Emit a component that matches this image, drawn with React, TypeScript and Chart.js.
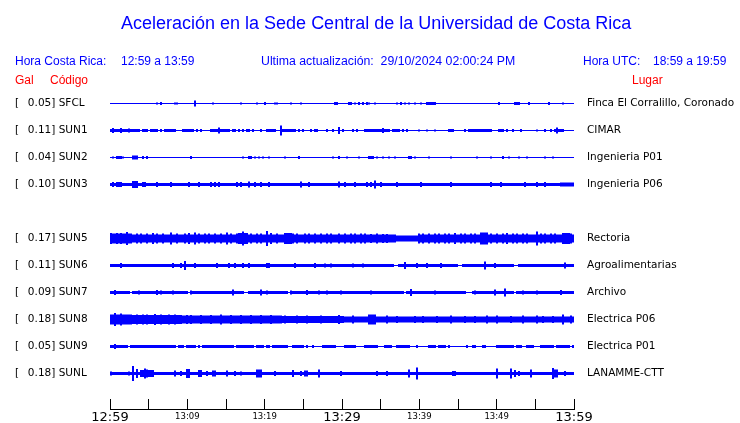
import React, { useEffect, useRef } from "react";
import { Chart, registerables } from "chart.js";

Chart.register(...registerables);

// ---------------- data ----------------
const STATIONS = ["SFCL", "SUN1", "SUN2", "SUN3", "SUN5", "SUN6", "SUN7", "SUN8", "SUN9", "SUNL"];
const PEAK_GAL = [0.05, 0.11, 0.04, 0.1, 0.17, 0.11, 0.09, 0.18, 0.05, 0.18];
const PLACES = [
  "Finca El Corralillo, Coronado",
  "CIMAR",
  "Ingenieria P01",
  "Ingenieria P06",
  "Rectoria",
  "Agroalimentarias",
  "Archivo",
  "Electrica P06",
  "Electrica P01",
  "LANAMME-CTT",
];
// row of each trace (row 4 = SUN4, without data)
const ROWS = [0, 1, 2, 3, 5, 6, 7, 8, 9, 10];
// background amplitude of each trace (relative units)
const BASE_AMP = [1, 1, 1, 3, 8, 3, 3, 6, 1, 3];

// minutes after 12:59 of the x ticks and their labels
const TICK_MINUTES = [0, 5, 10, 15, 20, 25, 30, 35, 40, 45, 50, 55, 60];
const TICK_LABELS: Record<number, string> = { 0: "12:59", 10: "13:09", 20: "13:19", 30: "13:29", 40: "13:39", 50: "13:49", 60: "13:59" };
const BIG_TICKS = [0, 30, 60];

// events per trace: [start minute, end minute, amplitude]
const EV_SFCL: number[][] = [
  [6.0, 6.0, 2], [6.5, 6.6, 3], [8.3, 8.3, 2], [8.7, 8.7, 2], [11.0, 11.0, 6], [13.2, 13.2, 2], [16.9, 16.9, 2],
  [19.0, 19.0, 2], [20.0, 20.0, 3], [21.3, 21.3, 2], [21.5, 21.5, 2], [23.5, 23.5, 2], [24.7, 24.7, 2],
  [29.1, 29.3, 3], [30.9, 31.2, 3], [31.7, 31.7, 2], [32.1, 32.1, 3], [32.6, 32.8, 3], [33.2, 33.2, 3],
  [33.6, 33.6, 2], [34.3, 34.3, 2], [37.1, 37.1, 2], [37.6, 37.6, 3], [38.2, 38.2, 2], [38.6, 38.6, 2],
  [39.4, 39.4, 2], [40.2, 40.2, 2], [40.9, 41.9, 3], [50.2, 50.2, 3], [52.3, 52.3, 3], [52.6, 52.6, 3],
  [52.9, 52.9, 3], [54.2, 54.2, 3], [56.7, 56.7, 3], [58.6, 58.6, 2],
];
const EV_SUN1: number[][] = [
  [0.0, 3.7, 3], [0.4, 0.4, 5], [1.5, 1.5, 5], [2.4, 2.4, 4], [4.2, 4.5, 3], [4.9, 4.9, 3], [5.2, 6.2, 3],
  [6.6, 6.6, 3], [7.0, 7.0, 3], [7.3, 7.3, 3], [7.6, 7.6, 3], [8.0, 8.3, 3], [9.5, 9.9, 3], [10.3, 10.8, 3],
  [11.2, 11.2, 3], [11.7, 11.7, 3], [13.1, 15.5, 3], [14.0, 14.0, 6], [15.8, 15.8, 3], [16.1, 16.1, 3],
  [16.6, 16.6, 3], [17.2, 17.2, 3], [17.6, 17.6, 3], [18.1, 18.1, 3], [18.5, 18.5, 3], [19.6, 19.6, 3],
  [20.3, 21.3, 3], [22.0, 22.0, 10], [22.2, 23.9, 3], [24.5, 24.5, 3], [25.0, 25.0, 3], [26.1, 26.1, 3],
  [26.5, 26.5, 3], [26.8, 26.8, 3], [28.1, 28.1, 3], [28.9, 28.9, 3], [29.5, 29.5, 3], [29.7, 29.7, 7],
  [30.0, 30.0, 3], [31.4, 31.4, 3], [31.9, 31.9, 3], [32.9, 32.9, 3], [33.3, 35.9, 3], [35.4, 35.4, 5],
  [36.2, 36.2, 3], [36.7, 37.4, 3], [37.8, 37.8, 3], [38.5, 38.5, 3], [39.9, 39.9, 2], [41.1, 41.1, 2],
  [42.1, 42.1, 2], [43.9, 44.3, 3], [45.8, 45.8, 3], [46.5, 47.5, 3], [47.7, 48.2, 3], [48.5, 49.2, 3],
  [50.3, 50.9, 3], [51.4, 51.4, 3], [52.0, 52.0, 3], [53.1, 53.1, 3], [55.3, 55.3, 2], [56.3, 56.3, 3],
  [57.0, 57.0, 3], [57.6, 58.3, 3], [57.9, 57.9, 6], [58.6, 58.6, 3],
];
const EV_SUN2: number[][] = [
  [0.5, 0.5, 2], [1.0, 1.3, 3], [1.8, 1.8, 2], [3.0, 3.6, 4], [4.2, 4.2, 3], [4.9, 4.9, 3], [10.5, 10.5, 3],
  [17.1, 17.1, 2], [18.0, 18.2, 3], [18.8, 18.8, 2], [19.2, 19.2, 2], [19.7, 19.7, 2], [20.6, 20.6, 2],
  [22.7, 22.7, 2], [24.5, 24.5, 3], [28.9, 28.9, 2], [29.7, 29.7, 3], [30.6, 30.6, 2], [32.3, 32.3, 2],
  [33.5, 34.0, 3], [34.6, 34.6, 2], [35.4, 35.4, 2], [36.0, 36.0, 2], [36.9, 36.9, 2], [38.6, 38.8, 3],
  [39.4, 39.4, 2], [41.2, 41.2, 2], [44.2, 44.2, 2], [47.4, 47.4, 2], [49.2, 49.2, 2], [50.8, 50.8, 3],
  [51.5, 51.5, 2], [53.0, 53.0, 2], [53.9, 53.9, 2], [56.3, 56.3, 2], [57.3, 57.3, 2],
];
const EV_SUN3: number[][] = [
  [0.4, 0.4, 5], [0.8, 0.8, 5], [1.1, 1.1, 5], [1.5, 1.5, 5], [3.1, 3.4, 7], [4.2, 4.5, 5], [6.1, 6.1, 5],
  [7.9, 7.9, 5], [10.1, 10.1, 5], [11.4, 11.4, 5], [13.0, 13.0, 5], [13.5, 13.5, 5], [14.2, 14.2, 5],
  [16.3, 16.3, 5], [16.9, 16.9, 5], [18.1, 18.1, 6], [18.8, 18.8, 5], [19.5, 19.5, 5], [20.6, 20.6, 5],
  [24.6, 24.6, 6], [25.7, 25.7, 5], [29.7, 29.7, 6], [30.5, 30.5, 5], [31.6, 31.6, 5], [33.2, 33.2, 5],
  [33.8, 33.8, 5], [34.2, 34.2, 8], [35.0, 35.0, 5], [37.0, 37.0, 5], [40.1, 40.1, 5], [44.2, 44.2, 5],
  [49.2, 49.2, 5], [50.6, 50.6, 5], [53.6, 53.6, 5], [55.1, 55.1, 5], [56.2, 56.2, 5], [58.3, 60, 4],
];
const EV_SUN5: number[][] = [
  [37.2, 39.8, 6],
  [0.0, 2.4, 10], [0.2, 0.2, 11], [0.9, 0.9, 11], [1.5, 1.5, 11], [2.2, 2.2, 13], [2.8, 2.8, 10], [3.4, 3.4, 10],
  [4.1, 4.1, 10], [4.7, 4.7, 10], [5.6, 5.6, 11], [6.2, 6.2, 10], [6.9, 6.9, 10], [8.0, 8.0, 12], [8.6, 8.6, 10],
  [9.7, 9.7, 10], [10.3, 10.3, 11], [11.0, 11.0, 12], [11.6, 11.6, 10], [12.3, 12.3, 10], [12.9, 12.9, 10],
  [13.5, 13.5, 10], [14.4, 14.4, 10], [15.2, 15.2, 12], [15.7, 15.7, 10], [16.3, 16.3, 10], [16.8, 17.6, 11],
  [17.1, 17.1, 14], [17.8, 17.8, 10], [18.3, 18.3, 10], [18.9, 18.9, 10], [19.6, 19.6, 10], [20.3, 20.3, 15],
  [20.9, 20.9, 11], [21.5, 21.5, 10], [22.6, 23.4, 11], [23.7, 23.7, 10], [24.3, 24.3, 10], [25.2, 25.2, 10],
  [25.8, 25.8, 10], [26.5, 26.5, 10], [27.3, 27.3, 10], [28.0, 28.0, 10], [28.6, 28.6, 10], [29.5, 29.5, 10],
  [30.3, 30.3, 10], [31.2, 31.2, 10], [31.8, 31.8, 10], [32.5, 32.5, 10], [33.1, 33.1, 10], [33.8, 33.8, 9],
  [34.6, 34.6, 10], [35.3, 35.3, 9], [35.9, 35.9, 9], [40.0, 40.0, 10], [40.6, 40.6, 10], [41.3, 41.3, 10],
  [41.9, 41.9, 10], [42.6, 42.6, 10], [43.2, 43.2, 10], [43.9, 43.9, 10], [44.5, 44.5, 11], [45.4, 45.4, 10],
  [46.0, 46.0, 10], [46.7, 46.7, 10], [47.3, 47.3, 10], [48.0, 48.7, 12], [49.2, 49.2, 10], [50.1, 50.1, 10],
  [50.8, 50.8, 10], [51.4, 51.4, 11], [52.0, 52.0, 10], [52.7, 52.7, 10], [53.3, 53.3, 10], [54.0, 54.0, 10],
  [55.1, 55.1, 14], [55.7, 55.7, 10], [56.3, 56.3, 10], [57.0, 57.0, 10], [57.6, 57.6, 10], [58.5, 59.3, 11],
  [59.6, 59.6, 10],
];
const EV_SUN6: number[][] = [
  [1.5, 1.5, 5], [8.1, 8.1, 5], [9.2, 9.2, 5], [9.8, 9.8, 9], [11.0, 11.0, 5], [13.9, 13.9, 5], [15.3, 15.3, 5],
  [16.2, 16.2, 5], [17.3, 17.3, 5], [18.0, 18.0, 5], [20.2, 20.2, 5], [20.6, 20.6, 5], [23.9, 23.9, 5],
  [26.5, 26.5, 5], [27.7, 27.7, 4], [28.6, 28.6, 4], [31.5, 31.5, 4], [32.7, 32.7, 4], [36.8, 37.2, 1],
  [38.2, 38.2, 7], [39.8, 39.8, 5], [41.0, 41.0, 5], [42.9, 42.9, 5], [45.0, 45.3, 1], [48.6, 48.6, 8],
  [49.9, 49.9, 5], [52.3, 52.5, 1], [58.9, 58.9, 6],
];
const EV_SUN7: number[][] = [
  [2.8, 2.8, 1], [10.1, 10.1, 1], [17.4, 17.8, 1], [23.2, 23.2, 1], [38.1, 38.1, 1], [46.2, 46.7, 1], [52.3, 52.3, 1],
  [0.6, 0.6, 5], [3.7, 3.7, 4], [6.0, 6.0, 5], [6.7, 6.7, 4], [8.1, 8.1, 4], [10.5, 10.5, 4], [15.9, 15.9, 6],
  [19.6, 19.6, 6], [20.3, 20.3, 4], [23.4, 23.4, 4], [25.4, 25.4, 5], [26.9, 26.9, 4], [28.0, 28.0, 4],
  [29.9, 29.9, 4], [33.8, 33.8, 4], [38.8, 38.8, 7], [42.1, 42.1, 4], [47.1, 47.1, 4], [49.9, 49.9, 6],
  [51.1, 51.1, 8], [53.5, 53.5, 4], [55.1, 55.1, 4], [58.3, 58.3, 5],
];
const EV_SUN8: number[][] = [
  [0.0, 2.4, 10], [2.4, 9.3, 9], [9.3, 22.2, 8], [22.2, 30.0, 7],
  [0.6, 0.6, 13], [1.3, 1.3, 12], [2.8, 2.8, 10], [3.4, 3.4, 10], [4.3, 4.3, 10], [4.9, 4.9, 10], [5.8, 5.8, 11],
  [6.7, 6.7, 10], [7.5, 7.5, 10], [8.4, 8.4, 10], [9.9, 9.9, 9], [10.5, 10.5, 9], [11.8, 11.8, 9], [13.1, 13.1, 9],
  [14.4, 14.4, 10], [15.7, 15.7, 9], [17.0, 17.0, 9], [18.3, 18.3, 9], [19.6, 19.6, 9], [20.9, 20.9, 9],
  [22.6, 22.6, 8], [24.3, 24.3, 8], [25.6, 25.6, 8], [27.3, 27.3, 8], [29.5, 29.5, 9], [29.7, 29.7, 9],
  [31.4, 31.4, 8], [33.5, 34.2, 10], [35.9, 35.9, 8], [37.2, 37.2, 7], [39.4, 39.4, 7], [40.6, 40.6, 7],
  [42.4, 42.4, 7], [44.1, 44.1, 8], [45.8, 45.8, 7], [47.1, 47.1, 7], [48.8, 48.8, 8], [50.1, 50.1, 8],
  [51.8, 51.8, 7], [53.5, 53.5, 8], [55.3, 55.3, 8], [56.1, 56.1, 7], [57.4, 57.4, 7], [58.7, 58.7, 10],
  [59.6, 59.6, 8],
];
const EV_SUN9: number[][] = [
  [0.0, 2.2, 3], [0.7, 0.7, 5], [2.6, 6.5, 3], [6.9, 7.5, 3], [8.0, 8.4, 3], [8.8, 9.5, 3], [9.9, 11.0, 3],
  [11.4, 11.6, 3], [12.0, 14.0, 3], [14.4, 15.9, 3], [16.3, 18.5, 3], [18.9, 19.8, 3], [20.2, 20.6, 3],
  [21.1, 23.0, 3], [23.7, 24.9, 3], [25.6, 25.6, 3], [26.2, 26.2, 3], [27.5, 28.0, 3], [28.4, 29.0, 3],
  [30.3, 30.8, 3], [31.2, 31.8, 3], [32.9, 34.6, 3], [35.5, 36.3, 3], [37.0, 38.7, 3], [39.6, 39.6, 3],
  [41.3, 41.9, 3], [42.6, 43.2, 3], [43.9, 43.9, 3], [46.2, 46.2, 3], [46.9, 47.3, 3], [48.2, 48.6, 3],
  [50.1, 51.0, 3], [51.2, 52.0, 3], [52.7, 53.1, 3], [53.8, 54.4, 3], [54.8, 54.8, 3], [55.7, 57.2, 3],
  [57.8, 58.3, 3], [58.7, 59.4, 3], [59.8, 59.8, 3],
];
const EV_SUNL: number[][] = [
  [0.2, 0.2, 4], [2.5, 2.5, 4], [3.1, 3.1, 15], [3.4, 3.4, 9], [3.9, 5.6, 7], [4.4, 4.4, 10], [4.7, 4.7, 8],
  [8.5, 8.5, 6], [9.2, 9.2, 5], [9.9, 10.1, 9], [11.6, 11.8, 7], [12.5, 12.5, 5], [13.3, 13.5, 6],
  [15.1, 15.1, 6], [16.1, 16.1, 5], [17.0, 17.0, 4], [18.9, 19.6, 8], [21.4, 21.4, 5], [23.7, 23.7, 7],
  [24.7, 24.7, 5], [25.2, 25.5, 6], [26.9, 26.9, 8], [29.8, 29.8, 5], [34.6, 34.6, 5], [35.9, 35.9, 5],
  [38.7, 38.7, 8], [39.8, 39.8, 12], [44.3, 44.7, 5], [50.1, 50.1, 10], [51.8, 51.8, 10], [52.4, 52.4, 7],
  [52.9, 52.9, 5], [54.5, 54.5, 8], [57.2, 57.8, 8], [57.4, 57.4, 11], [58.9, 58.9, 5],
];
const EVENTS = [EV_SFCL, EV_SUN1, EV_SUN2, EV_SUN3, EV_SUN5, EV_SUN6, EV_SUN7, EV_SUN8, EV_SUN9, EV_SUNL];

// ---------------- helpers ----------------
const SPAN = 60; // minutes shown
const BINS = 232;
const ROW_UNITS = 27; // amplitude units between two rows
const Y_MIN = -15.5;
const Y_MAX = 305.5;

function envelope(base: number, events: number[][]): number[] {
  const h: number[] = new Array(BINS).fill(base);
  for (const [t0, t1, a] of events) {
    const i0 = Math.max(0, Math.floor((t0 / SPAN) * BINS));
    const i1 = Math.min(BINS - 1, Math.floor((t1 / SPAN) * BINS));
    for (let i = i0; i <= i1; i++) h[i] = a < base ? a : Math.max(h[i], a);
  }
  return h;
}

const TRACE_BLUE = "#0000ff";
const AXIS_FONT = "'DejaVu Sans', sans-serif";
const HEAD_FONT = "'Liberation Sans', Arial, sans-serif";

export default function App() {
  const ref = useRef<HTMLCanvasElement | null>(null);

  useEffect(() => {
    const canvas = ref.current;
    if (!canvas) return;
    const datasets = STATIONS.map((name, k) => {
      const center = ROWS[k] * ROW_UNITS;
      const env = envelope(BASE_AMP[k], EVENTS[k]);
      return {
        label: name,
        data: env.map((a, i) => ({ x: ((i + 0.5) * SPAN) / BINS, y: [center - a / 2, center + a / 2] })),
        backgroundColor: TRACE_BLUE,
        borderWidth: 0,
        grouped: false,
        barPercentage: 1,
        categoryPercentage: 1,
        inflateAmount: 0,
      };
    });
    const rowValues = ROWS.map((r) => r * ROW_UNITS);
    const labelFor = (v: number, arr: string[]) => {
      const k = rowValues.indexOf(v);
      return k >= 0 ? arr[k] : "";
    };
    const leftLabels = STATIONS.map((s, k) => "[  \u2009" + PEAK_GAL[k].toFixed(2) + "] " + s);

    const chart = new Chart(canvas, {
      type: "bar",
      data: { datasets: datasets as any },
      options: {
        animation: false,
        responsive: false,
        maintainAspectRatio: false,
        devicePixelRatio: 1,
        layout: { padding: { top: 89, left: 15, right: 0, bottom: 0 } },
        plugins: { legend: { display: false }, tooltip: { enabled: false }, title: { display: false } },
        scales: {
          x: {
            type: "linear",
            position: "bottom",
            min: 0,
            max: SPAN,
            offset: false,
            afterBuildTicks: (s: any) => {
              s.ticks = TICK_MINUTES.map((v) => ({ value: v }));
            },
            afterFit: (s: any) => {
              s.height = 14;
            },
            grid: {
              display: true,
              drawOnChartArea: false,
              drawTicks: true,
              tickLength: -10,
              color: "#000",
              lineWidth: 1,
              offset: false,
            },
            border: { display: true, color: "#000", width: 1 },
            ticks: {
              autoSkip: false,
              maxRotation: 0,
              minRotation: 0,
              padding: 11,
              color: "#000",
              font: (ctx: any) =>
                BIG_TICKS.includes(ctx.tick?.value)
                  ? { family: AXIS_FONT, size: 13, lineHeight: 1.2 }
                  : { family: AXIS_FONT, size: 8.5, lineHeight: 1.6 },
              callback: (v: any) => TICK_LABELS[Number(v)] ?? "",
            },
          },
          y: {
            type: "linear",
            position: "left",
            reverse: true,
            min: Y_MIN + 1,
            max: Y_MAX,
            afterBuildTicks: (s: any) => {
              s.ticks = rowValues.map((v) => ({ value: v }));
            },
            afterFit: (s: any) => {
              s.width = 95;
            },
            grid: { display: false, drawTicks: false },
            border: { display: false },
            ticks: {
              autoSkip: false,
              crossAlign: "far",
              padding: 0,
              color: "#000",
              font: { family: AXIS_FONT, size: 10.5 },
              callback: (v: any) => labelFor(Number(v), leftLabels),
            },
          },
          y2: {
            type: "linear",
            position: "right",
            reverse: true,
            min: Y_MIN + 1,
            max: Y_MAX,
            afterBuildTicks: (s: any) => {
              s.ticks = rowValues.map((v) => ({ value: v }));
            },
            afterFit: (s: any) => {
              s.width = 166;
            },
            grid: { display: false, drawTicks: true, tickLength: 13 },
            border: { display: false },
            ticks: {
              autoSkip: false,
              padding: 0,
              color: "#000",
              font: { family: AXIS_FONT, size: 10.5 },
              callback: (v: any) => labelFor(Number(v), PLACES),
            },
          },
        },
      } as any,
    });
    return () => chart.destroy();
  }, []);

  const txt = (left: number, top: number, size: number, color: string, s: string) => (
    <div
      style={{
        position: "absolute",
        left,
        top,
        fontFamily: HEAD_FONT,
        fontSize: size,
        lineHeight: "normal",
        color,
        whiteSpace: "pre",
      }}
    >
      {s}
    </div>
  );

  return (
    <div style={{ position: "absolute", left: 0, top: 0, width: 740, height: 423, background: "#fff" }}>
      <canvas ref={ref} width={740} height={423} style={{ position: "absolute", left: 0, top: 0, width: 740, height: 423 }} />
      {txt(121, 13, 18, "#0000ff", "Aceleración en la Sede Central de la Universidad de Costa Rica")}
      {txt(15, 54, 12, "#0000ff", "Hora Costa Rica:")}
      {txt(121, 54, 12, "#0000ff", "12:59 a 13:59")}
      {txt(261, 54, 12.3, "#0000ff", "Ultima actualización:  29/10/2024 02:00:24 PM")}
      {txt(583, 54, 12, "#0000ff", "Hora UTC:")}
      {txt(653, 54, 12, "#0000ff", "18:59 a 19:59")}
      {txt(15, 73, 12, "#ff0000", "Gal")}
      {txt(50, 73, 12, "#ff0000", "Código")}
      {txt(632, 73, 12, "#ff0000", "Lugar")}
    </div>
  );
}
